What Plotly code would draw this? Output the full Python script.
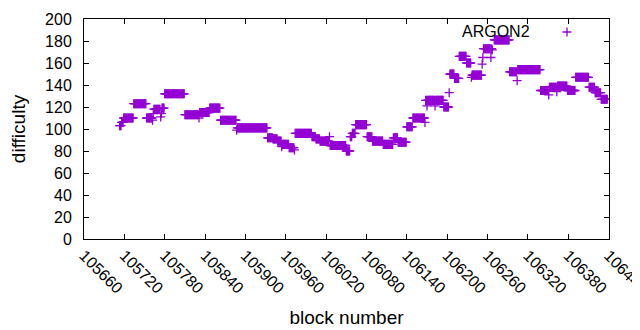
import numpy as np
import plotly.graph_objects as go

# Runs of consecutive blocks sharing the same difficulty (start block, end block, value)
run_start = [105713, 105716, 105719, 105734, 105753, 105762, 105763, 105764, 105774, 105775,
             105776, 105780, 105810, 105831, 105832, 105847, 105863, 105887, 105888, 105933,
             105941, 105948, 105954, 105955, 105965, 105973, 105974, 105999, 106005, 106011,
             106025, 106026, 106050, 106056, 106059, 106064, 106081, 106089, 106105, 106120,
             106127, 106140, 106149, 106167, 106168, 106170, 106171, 106182, 106183, 106195,
             106203, 106204, 106211, 106218, 106229, 106236, 106237, 106252, 106253, 106254,
             106265, 106266, 106267, 106270, 106293, 106304, 106305, 106339, 106351, 106352,
             106363, 106364, 106379, 106391, 106411, 106420, 106429]
run_end = [105715, 105718, 105733, 105752, 105761, 105762, 105763, 105773, 105774, 105775,
           105779, 105809, 105830, 105831, 105846, 105862, 105886, 105887, 105932, 105940,
           105947, 105953, 105954, 105964, 105972, 105973, 105998, 106004, 106010, 106024,
           106025, 106049, 106055, 106058, 106063, 106080, 106088, 106104, 106119, 106126,
           106139, 106148, 106166, 106167, 106169, 106170, 106181, 106182, 106194, 106202,
           106203, 106210, 106217, 106228, 106235, 106236, 106251, 106252, 106253, 106264,
           106265, 106266, 106267, 106292, 106303, 106304, 106338, 106350, 106351, 106362,
           106363, 106378, 106390, 106410, 106419, 106428, 106438]
run_value = [103, 106, 110, 123, 110, 108, 114, 118, 111, 114,
             119, 132, 113, 110, 115, 119, 108, 99, 101, 92,
             91, 89, 84, 86, 83, 81, 96, 93, 91, 89,
             93, 85, 80, 93, 96, 104, 93, 89, 86, 92,
             88, 102, 110, 106, 126, 121, 126, 121, 126, 120,
             133, 150, 146, 166, 160, 147, 149, 159, 165, 173,
             165, 173, 172, 181, 152, 144, 154, 135, 131, 138,
             134, 139, 135, 147, 138, 133, 127]

x_ticks = [105660, 105720, 105780, 105840, 105900, 105960, 106020, 106080,
           106140, 106200, 106260, 106320, 106380, 106440]
y_ticks = [0, 20, 40, 60, 80, 100, 120, 140, 160, 180, 200]

series_name = "ARGON2"
color = "#9400d3"

blocks = []
diffs = []
for s, e, v in zip(run_start, run_end, run_value):
    for b in range(s, e + 1):
        blocks.append(b)
        diffs.append(v)

marker_style = dict(symbol="cross-thin", size=6.5, line=dict(color=color, width=1.3), color=color)

fig = go.Figure()
fig.add_trace(go.Scatter(
    x=blocks, y=diffs, mode="markers", name=series_name,
    marker=marker_style, showlegend=False,
))
# legend sample (gnuplot style: text then symbol)
fig.add_trace(go.Scatter(
    x=[0.92], y=[0.941], xaxis="x2", yaxis="y2", mode="markers", showlegend=False,
    marker=marker_style, hoverinfo="skip",
))

axis_common = dict(
    showline=True, linecolor="black", linewidth=1, mirror="ticks",
    ticks="inside", ticklen=5, tickwidth=1, tickcolor="black",
    showgrid=False, zeroline=False, ticklabeloverflow="allow", automargin=False,
)

# page body has an 8px margin: figure size/margins compensate
fig.update_layout(
    width=632, height=322,
    margin=dict(l=76, r=31, t=11, b=91),
    plot_bgcolor="white", paper_bgcolor="white",
    font=dict(family="Liberation Sans", size=16, color="black"),
    showlegend=False,
    xaxis=dict(range=[105660, 106440.6], tickmode="array", tickvals=x_ticks,
               ticktext=[str(t) for t in x_ticks], tickangle=45,
               title=dict(text="block number", standoff=14), **axis_common),
    yaxis=dict(range=[0, 200], tickmode="array", tickvals=y_ticks,
               ticktext=[str(t) for t in y_ticks], ticklabelstandoff=8,
               title=dict(text="difficulty", standoff=19), **axis_common),
    xaxis2=dict(overlaying="x", range=[0, 1], visible=False),
    yaxis2=dict(overlaying="y", range=[0, 1], visible=False),
    annotations=[dict(text=series_name, xref="paper", yref="paper", x=0.853, y=0.945,
                      xanchor="right", yanchor="middle", showarrow=False,
                      font=dict(size=16))],
)

fig.write_html("out.html")
